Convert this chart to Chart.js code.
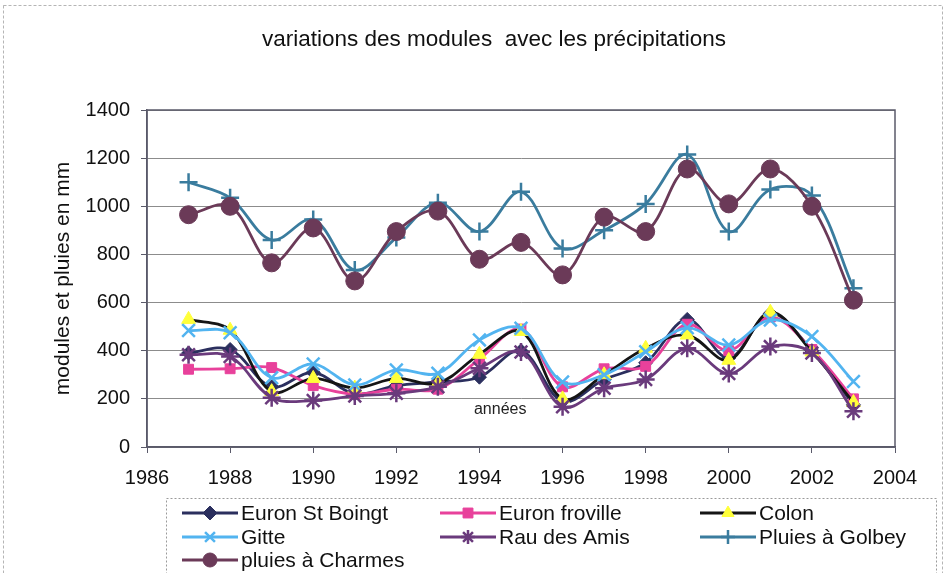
<!DOCTYPE html>
<html>
<head>
<meta charset="utf-8">
<script src="https://cdn.jsdelivr.net/npm/chart.js@4.4.1/dist/chart.umd.min.js"></script>
<style>
  html, body { margin: 0; padding: 0; background: #ffffff; }
  #wrap { width: 946px; height: 573px; position: relative; }
</style>
</head>
<body>
<div id="wrap"><canvas id="c" width="946" height="573"></canvas></div>
<script>
const years = [1987, 1988, 1989, 1990, 1991, 1992, 1993, 1994, 1995, 1996, 1997, 1998, 1999, 2000, 2001, 2002, 2003];
const euronStBoingt = [390, 405, 250, 310, 220, 255, 270, 290, 400, 190, 280, 350, 530, 370, 555, 400, 175];
const euronFroville = [323, 325, 330, 255, 220, 240, 240, 365, 490, 250, 325, 335, 510, 400, 540, 405, 200];
const colon = [530, 485, 230, 285, 245, 285, 265, 385, 480, 200, 300, 410, 465, 360, 560, 395, 185];
const gitte = [484, 475, 288, 345, 258, 320, 306, 445, 493, 270, 300, 396, 495, 424, 528, 459, 272];
const rauDesAmis = [383, 376, 205, 193, 212, 223, 250, 327, 395, 167, 244, 280, 410, 305, 417, 390, 148];
const pluiesGolbey = [1100, 1035, 860, 945, 735, 870, 1015, 895, 1060, 825, 900, 1010, 1215, 895, 1070, 1045, 660];
const pluiesCharmes = [965, 1000, 765, 910, 690, 895, 980, 780, 850, 715, 955, 895, 1155, 1010, 1155, 1000, 610];
const yTicks = [0, 200, 400, 600, 800, 1000, 1200, 1400];
const xTicks = [1986, 1988, 1990, 1992, 1994, 1996, 1998, 2000, 2002, 2004];
const titleText = 'variations des modules  avec les précipitations';
const yTitle = 'modules et pluies en mm';
const xTitle = 'années';
const xTitlePos = [1994.5, 155];

const FONT = '"Liberation Sans", Arial, sans-serif';

function pts(vals) { return years.map((y, i) => ({ x: y, y: vals[i] })); }

const seriesDefs = [
  { label: 'Euron St Boingt', data: euronStBoingt, line: '#2b2f5e', fill: '#2b2f5e', stroke: '#2b2f5e', style: 'rectRot', r: 7, bw: 1 },
  { label: 'Euron froville', data: euronFroville, line: '#e8419b', fill: '#e8419b', stroke: '#e8419b', style: 'rect', r: 7, bw: 1 },
  { label: 'Colon', data: colon, line: '#151515', fill: '#ffff3a', stroke: '#ffff3a', style: 'triangle', r: 8, bw: 1 },
  { label: 'Gitte', data: gitte, line: '#52b4f0', fill: '#52b4f0', stroke: '#52b4f0', style: 'crossRot', r: 9, bw: 2.5 },
  { label: 'Rau des Amis', data: rauDesAmis, line: '#6a3a7c', fill: '#6a3a7c', stroke: '#6a3a7c', style: 'star', r: 9, bw: 2.5 },
  { label: 'Pluies à Golbey', data: pluiesGolbey, line: '#3a7c9e', fill: '#3a7c9e', stroke: '#3a7c9e', style: 'cross', r: 9, bw: 2.5 },
  { label: 'pluies à Charmes', data: pluiesCharmes, line: '#6b3a58', fill: '#6b3a58', stroke: '#6b3a58', style: 'circle', r: 9, bw: 1 }
];

const datasets = seriesDefs.map((s, i) => ({
  label: s.label,
  data: pts(s.data),
  borderColor: s.line,
  backgroundColor: s.fill,
  pointBackgroundColor: s.fill,
  pointBorderColor: s.stroke,
  pointStyle: s.style,
  pointRadius: s.r,
  pointBorderWidth: s.bw,
  pointHoverRadius: s.r,
  borderWidth: 2.8,
  tension: 0.35,
  fill: false,
  order: seriesDefs.length - i
}));

const decor = {
  id: 'decor',
  beforeDraw(chart) {
    const ctx = chart.ctx;
    ctx.save();
    ctx.fillStyle = '#ffffff';
    ctx.fillRect(0, 0, chart.width, chart.height);
    ctx.strokeStyle = '#b5b5b5';
    ctx.lineWidth = 1;
    ctx.setLineDash([3, 2]);
    ctx.strokeRect(3.5, 5.5, 939, 575);
    ctx.setLineDash([]);
    ctx.fillStyle = '#111';
    ctx.font = '22.5px ' + FONT;
    ctx.textAlign = 'center';
    ctx.textBaseline = 'middle';
    ctx.fillText(titleText, 494, 40);
    ctx.restore();
  },
  afterDraw(chart) {
    const ctx = chart.ctx;
    const a = chart.chartArea;
    ctx.save();
    ctx.strokeStyle = '#5a5a6a';
    ctx.lineWidth = 1.5;
    ctx.strokeRect(a.left, a.top, a.right - a.left, a.bottom - a.top);
    const xs = chart.scales.x, ys = chart.scales.y;
    ctx.fillStyle = '#222';
    ctx.font = '16px ' + FONT;
    ctx.textAlign = 'center';
    ctx.textBaseline = 'middle';
    ctx.fillText(xTitle, xs.getPixelForValue(xTitlePos[0]), ys.getPixelForValue(xTitlePos[1]));
    ctx.strokeStyle = '#9a9a9a';
    ctx.lineWidth = 1;
    ctx.setLineDash([2, 2]);
    ctx.strokeRect(166.5, 498.5, 770, 90);
    ctx.setLineDash([]);
    const colX = [182, 440, 700];
    const rowY = [513, 537, 560];
    const segW = 56;
    ctx.font = '21px ' + FONT;
    ctx.textAlign = 'left';
    ctx.textBaseline = 'middle';
    seriesDefs.forEach((s, i) => {
      const cx = colX[i % 3], cy = rowY[Math.floor(i / 3)];
      ctx.strokeStyle = s.line;
      ctx.lineWidth = 2.8;
      ctx.beginPath();
      ctx.moveTo(cx, cy);
      ctx.lineTo(cx + segW, cy);
      ctx.stroke();
      ctx.fillStyle = s.fill;
      ctx.strokeStyle = s.stroke;
      ctx.lineWidth = s.bw;
      Chart.helpers.drawPoint(ctx, { pointStyle: s.style, radius: Math.min(s.r, 7), rotation: 0, borderWidth: s.bw }, cx + segW / 2, cy);
      ctx.fillStyle = '#111';
      ctx.fillText(s.label, cx + segW + 3, cy + 1);
    });
    ctx.restore();
  }
};

new Chart(document.getElementById('c'), {
  type: 'line',
  data: { datasets },
  plugins: [decor],
  options: {
    responsive: false,
    animation: false,
    devicePixelRatio: 1,
    layout: { padding: { left: 0, right: 51, top: 110, bottom: 86 } },
    plugins: {
      legend: { display: false },
      tooltip: { enabled: false },
      title: { display: false }
    },
    scales: {
      x: {
        type: 'linear',
        min: 1986,
        max: 2004,
        afterFit(scale) { scale.height = 40; },
        afterBuildTicks(scale) { scale.ticks = xTicks.map(v => ({ value: v })); },
        ticks: {
          font: { family: FONT, size: 20 },
          color: '#111',
          padding: 13,
          maxRotation: 0,
          callback: v => String(v)
        },
        grid: { drawOnChartArea: false, drawTicks: true, tickLength: 6, color: '#5a5a6a' },
        border: { color: '#5a5a6a', width: 1.5 }
      },
      y: {
        min: 0,
        max: 1400,
        afterFit(scale) { scale.width = 147; },
        afterBuildTicks(scale) { scale.ticks = yTicks.map(v => ({ value: v })); },
        ticks: {
          font: { family: FONT, size: 20 },
          color: '#111',
          padding: 11,
          callback: v => String(v)
        },
        grid: { color: '#8c8c8c', lineWidth: 1, tickLength: 6, tickColor: '#5a5a6a' },
        border: { color: '#5a5a6a', width: 1.5 },
        title: {
          display: true,
          text: yTitle,
          font: { family: FONT, size: 21 },
          color: '#111',
          padding: { top: 51, bottom: 0 }
        }
      }
    }
  }
});
</script>
</body>
</html>
